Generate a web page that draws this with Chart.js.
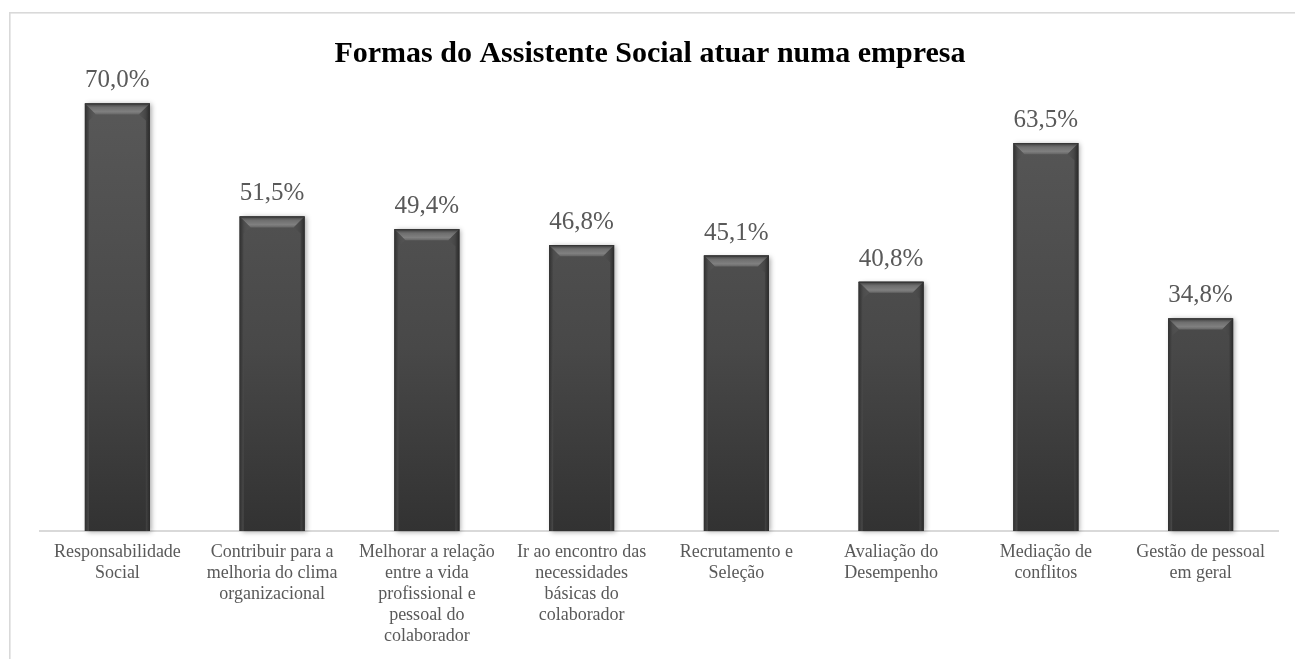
<!DOCTYPE html>
<html>
<head>
<meta charset="utf-8">
<script src="https://cdn.jsdelivr.net/npm/chart.js@4.4.1/dist/chart.umd.min.js"></script>
<style>
  html, body { margin: 0; padding: 0; background: #ffffff; }
  #wrap { width: 1295px; height: 659px; position: relative; }
</style>
</head>
<body>
<div id="wrap"><canvas id="chart" width="1295" height="659"></canvas></div>
<script>
// Categories (multi-line labels) and percentage values
const categories = [
  ["Responsabilidade", "Social"],
  ["Contribuir para a", "melhoria do clima", "organizacional"],
  ["Melhorar a relação", "entre a vida", "profissional e", "pessoal do", "colaborador"],
  ["Ir ao encontro das", "necessidades", "básicas do", "colaborador"],
  ["Recrutamento e", "Seleção"],
  ["Avaliação do", "Desempenho"],
  ["Mediação de", "conflitos"],
  ["Gestão de pessoal", "em geral"]
];
const percentages = [70.0, 51.5, 49.4, 46.8, 45.1, 40.8, 63.5, 34.8];
const chartTitle = "Formas do Assistente Social atuar numa empresa";

const SERIF = "'Liberation Serif', 'Times New Roman', serif";

// Light frame around the chart
const framePlugin = {
  id: 'frame',
  beforeDraw(chart) {
    const ctx = chart.ctx;
    ctx.save();
    ctx.fillStyle = '#ffffff';
    ctx.fillRect(0, 0, chart.width, chart.height);
    ctx.strokeStyle = '#d9d9d9';
    ctx.lineWidth = 1.6;
    ctx.strokeRect(9.8, 12.8, chart.width + 20, chart.height + 20);
    ctx.restore();
  }
};

// Soft drop shadow behind each bar
const shadowPlugin = {
  id: 'barShadow',
  beforeDatasetsDraw(chart) {
    const ctx = chart.ctx;
    const meta = chart.getDatasetMeta(0);
    ctx.save();
    meta.data.forEach(bar => {
      const left = bar.x - bar.width / 2;
      ctx.shadowColor = 'rgba(0,0,0,0.35)';
      ctx.shadowBlur = 5;
      ctx.shadowOffsetX = 2;
      ctx.shadowOffsetY = 1;
      ctx.fillStyle = '#444444';
      ctx.fillRect(left, bar.y, bar.width, bar.base - bar.y);
    });
    ctx.restore();
  }
};

// Bevelled edges and value labels on top of the bars
const bevelPlugin = {
  id: 'bevel',
  afterDatasetsDraw(chart) {
    const ctx = chart.ctx;
    const meta = chart.getDatasetMeta(0);
    ctx.save();
    meta.data.forEach((bar, i) => {
      const l = bar.x - bar.width / 2;
      const r = bar.x + bar.width / 2;
      const t = bar.y;
      const b = bar.base;
      const bv = 11;

      // top bevel
      let g = ctx.createLinearGradient(0, t, 0, t + bv);
      g.addColorStop(0, '#3c3c3c');
      g.addColorStop(0.35, '#6e6e6e');
      g.addColorStop(0.75, '#808080');
      g.addColorStop(1, '#666666');
      ctx.fillStyle = g;
      ctx.beginPath();
      ctx.moveTo(l, t); ctx.lineTo(r, t);
      ctx.lineTo(r - bv, t + bv); ctx.lineTo(l + bv, t + bv);
      ctx.closePath(); ctx.fill();

      // side bevels
      const sw = 4;
      g = ctx.createLinearGradient(l, 0, l + bv, 0);
      g.addColorStop(0, '#303030');
      g.addColorStop(0.4, '#4c4c4c');
      g.addColorStop(1, 'rgba(90,90,90,0.3)');
      ctx.fillStyle = g;
      ctx.beginPath();
      ctx.moveTo(l, t); ctx.lineTo(l + bv, t + bv); ctx.lineTo(l + sw, t + bv + 6);
      ctx.lineTo(l + sw, b); ctx.lineTo(l, b); ctx.closePath(); ctx.fill();

      g = ctx.createLinearGradient(r, 0, r - bv, 0);
      g.addColorStop(0, '#2a2a2a');
      g.addColorStop(0.4, '#464646');
      g.addColorStop(1, 'rgba(80,80,80,0.3)');
      ctx.fillStyle = g;
      ctx.beginPath();
      ctx.moveTo(r, t); ctx.lineTo(r - bv, t + bv); ctx.lineTo(r - sw, t + bv + 6);
      ctx.lineTo(r - sw, b); ctx.lineTo(r, b); ctx.closePath(); ctx.fill();

      // top edge line
      ctx.strokeStyle = '#353535';
      ctx.lineWidth = 1;
      ctx.beginPath(); ctx.moveTo(l, t + 0.5); ctx.lineTo(r, t + 0.5); ctx.stroke();

      // value label
      ctx.fillStyle = '#595959';
      ctx.font = '25px ' + SERIF;
      ctx.textAlign = 'center';
      ctx.textBaseline = 'alphabetic';
      const txt = percentages[i].toFixed(1).replace('.', ',') + '%';
      ctx.fillText(txt, bar.x, t - 16);
    });
    ctx.restore();
  }
};

new Chart(document.getElementById('chart'), {
  type: 'bar',
  data: {
    labels: categories,
    datasets: [{
      data: percentages,
      backgroundColor(c) {
        const area = c.chart.chartArea;
        if (!area) return '#4a4a4a';
        const g = c.chart.ctx.createLinearGradient(0, area.top, 0, area.bottom);
        g.addColorStop(0, '#5a5a5a');
        g.addColorStop(0.6, '#484848');
        g.addColorStop(1, '#323232');
        return g;
      },
      borderWidth: 0,
      categoryPercentage: 1.0,
      barPercentage: 0.42
    }]
  },
  options: {
    responsive: false,
    animation: false,
    events: [],
    layout: { padding: { left: 22, right: 17, top: 0, bottom: 0 } },
    plugins: {
      legend: { display: false },
      tooltip: { enabled: false },
      title: {
        display: true,
        text: chartTitle,
        color: '#000000',
        font: { family: SERIF, size: 30, weight: 'bold', lineHeight: 1.2 },
        padding: { top: 36, bottom: 0.9 }
      }
    },
    scales: {
      x: {
        grid: { display: false, drawTicks: false },
        border: { display: true, color: '#d9d9d9', width: 2 },
        ticks: {
          color: '#595959',
          font: { family: SERIF, size: 18, lineHeight: 21 / 18 },
          padding: 11,
          maxRotation: 0,
          minRotation: 0,
          autoSkip: false
        },
        afterFit(s) { s.height = 128; }
      },
      y: {
        display: true,
        min: 0,
        max: 75,
        grid: { display: false, drawTicks: false },
        border: { display: false },
        ticks: { display: false },
        afterFit(s) { s.width = 18; }
      }
    }
  },
  plugins: [framePlugin, shadowPlugin, bevelPlugin]
});
</script>
</body>
</html>
